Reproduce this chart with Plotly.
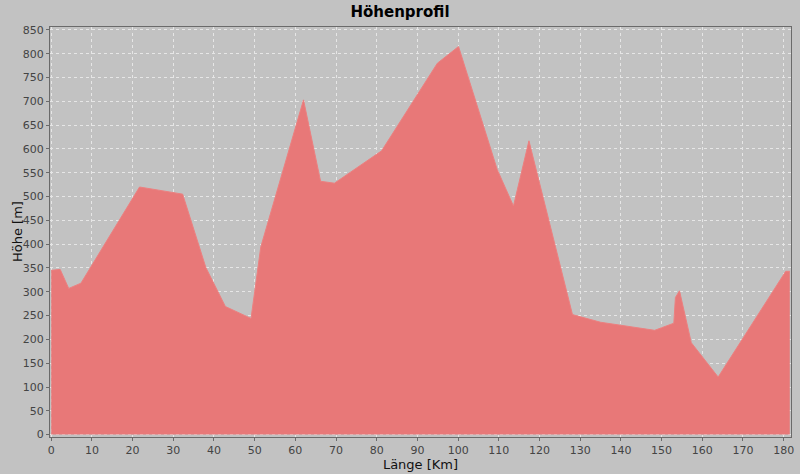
import plotly.graph_objects as go

distance_km = [0, 2.2, 4.3, 7.3, 21.7, 32.3, 38.0, 42.8, 49.1, 51.5, 62.0, 66.2, 69.6, 81.2, 94.9, 100.1,
               109.6, 113.6, 117.4, 128.1, 135.0, 148.3, 153.0, 153.4, 154.4, 157.3, 163.9, 180.5, 181.5]
elevation_m = [345, 347, 307, 318, 520, 505, 351, 269, 244, 394, 703, 532, 528, 596, 780, 815,
               557, 480, 617, 252, 236, 219, 234, 288, 302, 193, 121, 343, 343]

x_ticks = list(range(0, 190, 10))
y_ticks = list(range(0, 900, 50))

bg = "#c2c2c2"
fig = go.Figure()
fig.add_trace(go.Scatter(
    x=distance_km, y=elevation_m, mode="lines", fill="tozeroy",
    line=dict(color="rgba(236,128,128,1)", width=1),
    fillcolor="rgba(232,120,120,1)", hoverinfo="x+y"))

axis_common = dict(showline=True, linecolor="#6a6a6a", linewidth=1, mirror=True,
                   showgrid=True, gridcolor="#e6e6e6", griddash="dot", gridwidth=1,
                   ticks="outside", ticklen=3, tickcolor="#6a6a6a",
                   tickfont=dict(family="DejaVu Sans", size=11, color="#444444"),
                   zeroline=False, automargin=False)

fig.update_layout(
    width=800, height=474,
    paper_bgcolor=bg, plot_bgcolor=bg,
    margin=dict(l=50, r=9, t=27, b=37),
    showlegend=False,
    title=dict(text="<b>Höhenprofil</b>", x=0.5, xanchor="center", xref="container",
               y=0.975, yref="container", yanchor="middle", automargin=False,
               font=dict(family="DejaVu Sans", size=15, color="#000000")),
    xaxis=dict(axis_common, range=[-0.3, 181.8], tickvals=x_ticks,
               title=dict(text="Länge [Km]", standoff=3,
                          font=dict(family="DejaVu Sans", size=13, color="#111111"))),
    yaxis=dict(axis_common, range=[-5, 856], tickvals=y_ticks),
    annotations=[dict(text="Höhe [m]", xref="paper", yref="paper", x=-0.0445, y=0.5,
                      xanchor="center", yanchor="middle", textangle=-90, showarrow=False,
                      font=dict(family="DejaVu Sans", size=13, color="#111111"))],
)

fig.write_html("out.html", config={"displayModeBar": False},
               post_script="document.body.style.margin='0';document.body.style.background='%s';" % bg)
